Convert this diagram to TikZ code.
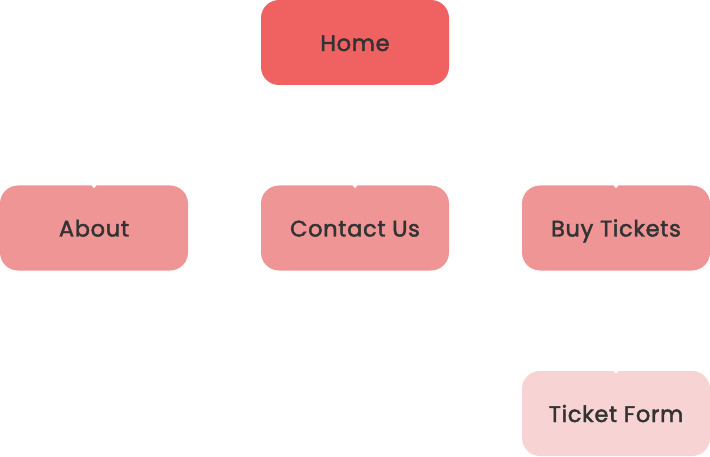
\documentclass[tikz,border=0pt]{standalone}
\usepackage{fontspec}
\setmainfont{Poppins}
\newfontfamily\nodefont{Poppins}[FakeBold=2, LetterSpace=3]
\usetikzlibrary{arrows.meta}
\definecolor{homecol}{HTML}{F06262}
\definecolor{childcol}{HTML}{F09595}
\definecolor{leafcol}{HTML}{F8D3D3}
\definecolor{textcol}{HTML}{333333}
\tikzset{
  page/.style={rounded corners=18pt, minimum width=188pt, minimum height=85pt,
    inner sep=0pt, font=\nodefont\fontsize{22.5}{26}\selectfont, text=textcol,
    text height=17pt, text depth=0pt},
  link/.style={draw=white, line width=1pt, -{Triangle[width=6pt,length=4pt]}, shorten >=-3pt}
}
\begin{document}
\begin{tikzpicture}[x=1pt,y=1pt]
\useasboundingbox (0,0) rectangle (710,456);
\node[page, fill=homecol] (home) at (355,413.5) {Home};
\node[page, fill=childcol] (about) at (94,228) {About};
\node[page, fill=childcol] (contact) at (355,228) {Contact Us};
\node[page, fill=childcol] (buy) at (616,228) {Buy Tickets};
\node[page, fill=leafcol] (form) at (616,42.5) {Ticket Form};
\draw[link] (home.south) -- ++(0,-50) -| (about.north);
\draw[link] (home.south) -- (contact.north);
\draw[link] (home.south) -- ++(0,-50) -| (buy.north);
\draw[link] (buy.south) -- (form.north);
\end{tikzpicture}
\end{document}
